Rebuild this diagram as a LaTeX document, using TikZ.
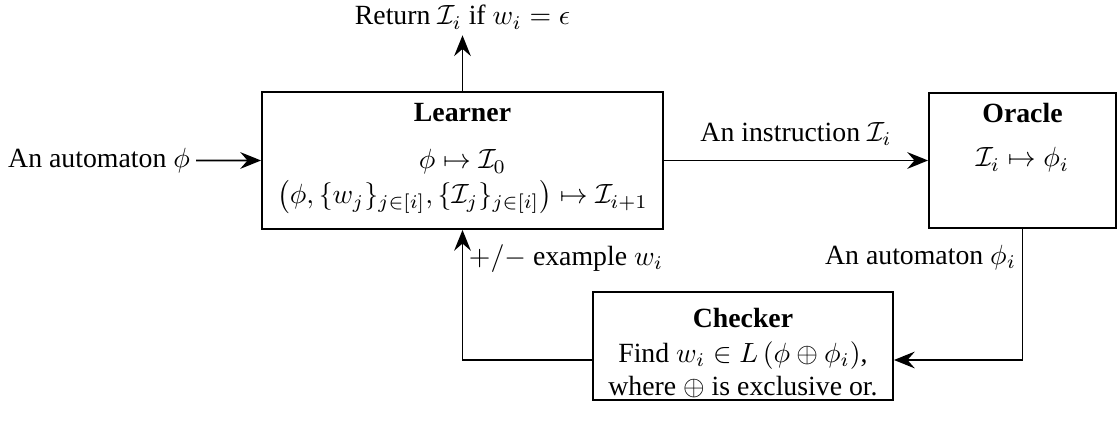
\documentclass[tikz,border=0pt]{standalone}
\usepackage{fontspec}
\setmainfont{Liberation Serif}
\usetikzlibrary{arrows.meta,fit}
\begin{document}
\begin{tikzpicture}[x=0.36pt,y=-0.36pt,
  box/.style={draw, line width=0.65pt, inner sep=0pt},
  conn/.style={line width=0.65pt, -{Stealth[length=7.5pt,width=6pt,inset=2.6pt]}},
  title/.style={font=\bfseries, inner sep=0pt},
  txt/.style={inner sep=0pt}]
\useasboundingbox (0,0) rectangle (1117,430);
% boxes
\node[box, fit={(262,92) (663,229)}] (L) {};
\node[box, fit={(929,93) (1116,228)}] (O) {};
\node[box, fit={(593,292) (893,400)}] (C) {};
% texts in boxes
\node[title] (Lt) at (462.5,113) {Learner};
\node[txt] (L1) at (462.5,162) {$\phi\mapsto\mathcal{I}_0$};
\node[txt] (L2) at (462.5,197) {$\bigl(\phi,\{w_j\}_{j\in[i]},\{\mathcal{I}_j\}_{j\in[i]}\bigr)\mapsto\mathcal{I}_{i+1}$};
\node[title] (Ot) at (1022.5,113) {Oracle};
\node[txt] (O1) at (1022.5,160) {$\mathcal{I}_i\mapsto\phi_i$};
\node[title] (Ct) at (743,318) {Checker};
\node[txt, align=center] (C1) at (743,370) {Find $w_i\in L\left(\phi\oplus\phi_i\right)$,\\ where $\oplus$ is exclusive or.};
% outside texts
\node[anchor=base, inner sep=2pt] (ret) at (462.5,25) {Return $\mathcal{I}_i$ if $w_i=\epsilon$};
\node[anchor=east, inner sep=2pt] (in) at (196,160.5) {An automaton $\phi$};
% connectors
\draw[conn] (L.north) -- (ret.south);
\draw[conn] (in) -- (L);
\draw[conn] (L) -- node[above, inner sep=5pt] {An instruction $\mathcal{I}_i$} (O);
\draw[conn] (O.south) |- node[pos=0.11, left, inner sep=2pt] {An automaton $\phi_i$} (C.east |- 0,360);
\draw[conn] (C.west |- 0,360) -| node[pos=0.89, right, inner sep=2pt] {$+/-$ example $w_i$} (L.south);
\end{tikzpicture}
\end{document}
